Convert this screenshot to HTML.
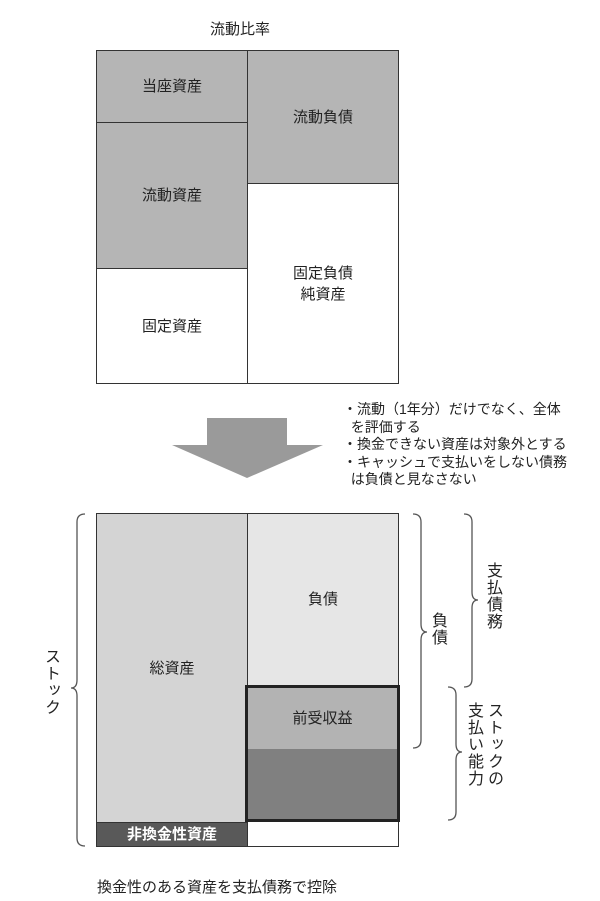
<!DOCTYPE html>
<html><head><meta charset="utf-8"><style>
body{margin:0;background:#fff;width:600px;height:901px;position:relative;overflow:hidden;font-family:"Liberation Sans","Noto Sans CJK JP",sans-serif;color:#222}
.a{position:absolute;box-sizing:border-box;display:flex;align-items:center;justify-content:center;text-align:center;font-size:15px;line-height:1.4}
.t{position:absolute;font-size:15px;white-space:nowrap}
.v{position:absolute;writing-mode:vertical-rl;font-size:16px;letter-spacing:1px;line-height:20px}
</style></head><body>
<div class="t" style="left:210px;top:18px">流動比率</div>
<div class="a" style="left:96px;top:50px;width:152px;height:73px;background:#b5b5b5;border:1px solid #333">当座資産</div>
<div class="a" style="left:96px;top:122px;width:152px;height:147px;background:#b5b5b5;border:1px solid #333">流動資産</div>
<div class="a" style="left:96px;top:268px;width:152px;height:116px;background:#fff;border:1px solid #333">固定資産</div>
<div class="a" style="left:247px;top:50px;width:152px;height:134px;background:#b5b5b5;border:1px solid #333">流動負債</div>
<div class="a" style="left:247px;top:183px;width:152px;height:201px;background:#fff;border:1px solid #333">固定負債<br>純資産</div>
<svg style="position:absolute;left:0;top:0" width="600" height="901">
<polygon points="207,418 287,418 287,445 323,445 247,478 172,445 207,445" fill="#9a9a9a"/>
<g fill="none" stroke="#555" stroke-width="1.3">
<path d="M85,514 Q77,514 77,522 L77,680 Q77,688 71,688 Q77,688 77,696 L77,838 Q77,846 85,846"/>
<path d="M413,514 Q421,514 421,522 L421,624 Q421,632 427,632 Q421,632 421,640 L421,740 Q421,748 413,748"/>
<path d="M464,514 Q472,514 472,522 L472,592 Q472,600 478,600 Q472,600 472,608 L472,679 Q472,687 464,687"/>
<path d="M448,687 Q456,687 456,695 L456,744 Q456,752 462,752 Q456,752 456,760 L456,812 Q456,820 448,820"/>
</g></svg>
<div class="t" style="left:343px;top:401px;font-size:14px;line-height:17.5px;white-space:normal;width:257px">・流動（1年分）だけでなく、全体<br>&nbsp;&nbsp;を評価する<br>・換金できない資産は対象外とする<br>・キャッシュで支払いをしない債務<br>&nbsp;&nbsp;は負債と見なさない</div>
<div class="a" style="left:96px;top:513px;width:152px;height:310px;background:#d4d4d4;border:1px solid #333">総資産</div>
<div class="a" style="left:96px;top:822px;width:152px;height:25px;background:#595959;border:1px solid #333;color:#fff;font-weight:bold">非換金性資産</div>
<div class="a" style="left:247px;top:513px;width:152px;height:173px;background:#e6e6e6;border:1px solid #333">負債</div>
<div class="a" style="left:247px;top:821px;width:152px;height:26px;background:#fff;border:1px solid #333"></div>
<div class="a" style="left:245px;top:685px;width:155px;height:65px;background:#b3b3b3;border:3px solid #222;border-bottom:1px solid #333">前受収益</div>
<div class="a" style="left:245px;top:749px;width:155px;height:73px;background:#808080;border:3px solid #222;border-top:none"></div>
<div class="v" style="left:40px;top:648px">ストック</div>
<div class="v" style="left:427px;top:612px">負債</div>
<div class="v" style="left:482px;top:562px">支払債務</div>
<div class="v" style="left:463px;top:702px">ストックの<br>支払い能力</div>
<div class="t" style="left:97px;top:876px">換金性のある資産を支払債務で控除</div>
</body></html>
